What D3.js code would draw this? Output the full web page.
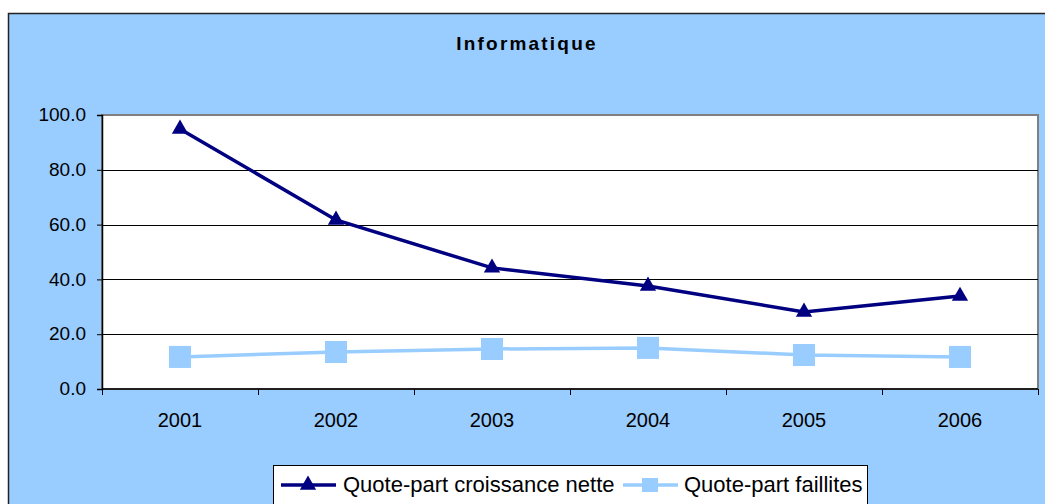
<!DOCTYPE html>
<html lang="en">
<head>
<meta charset="utf-8">
<title>Informatique</title>
<script src="https://cdn.jsdelivr.net/npm/d3@7"></script>
<style>
  body { margin: 0; background: #fff; }
  svg { display: block; font-family: "Liberation Sans", Arial, sans-serif; }
</style>
</head>
<body>
<script>
// data
var years = ["2001", "2002", "2003", "2004", "2005", "2006"];
var croissance = [94.9, 61.7, 44.2, 37.6, 28.1, 33.9];
var faillites = [11.7, 13.5, 14.6, 15.0, 12.4, 11.7];
var yTicks = [0, 20, 40, 60, 80, 100];

var w = 1045, h = 504;
var plot = { left: 102, top: 115, right: 1038, bottom: 389 };

var svg = d3.select("body").append("svg")
  .attr("width", w)
  .attr("height", h);

// chart area background with border
svg.append("rect")
  .attr("x", 8.5).attr("y", 13.5)
  .attr("width", w + 20).attr("height", h + 20)
  .attr("fill", "#99CCFF")
  .attr("stroke", "#222")
  .attr("stroke-width", 1.5);

svg.append("text")
  .attr("x", 527).attr("y", 50)
  .attr("text-anchor", "middle")
  .attr("font-size", 19)
  .attr("font-weight", "bold")
  .attr("letter-spacing", "2.2px")
  .text("Informatique");

var x = d3.scaleBand().domain(years).range([plot.left, plot.right]);
var y = d3.scaleLinear().domain([0, 100]).range([plot.bottom, plot.top]);

// plot area
svg.append("rect")
  .attr("x", plot.left).attr("y", plot.top)
  .attr("width", plot.right - plot.left).attr("height", plot.bottom - plot.top)
  .attr("fill", "#fff")
  .attr("stroke", "#808080")
  .attr("stroke-width", 2);

// gridlines
svg.append("g").selectAll("line")
  .data(yTicks.filter(function(d) { return d > 0 && d < 100; }))
  .enter().append("line")
  .attr("x1", plot.left).attr("x2", plot.right)
  .attr("y1", function(d) { return Math.round(y(d)) + 0.5; })
  .attr("y2", function(d) { return Math.round(y(d)) + 0.5; })
  .attr("stroke", "#000")
  .attr("stroke-width", 1);

// y axis
var yAxis = d3.axisLeft(y)
  .tickValues(yTicks)
  .tickFormat(d3.format(".1f"))
  .tickSize(5)
  .tickPadding(11);

var gy = svg.append("g")
  .attr("transform", "translate(" + plot.left + ",0)")
  .call(yAxis);
gy.selectAll("text")
  .attr("font-size", 19)
  .attr("dy", "0.3em")
  .attr("fill", "#000")
  .attr("font-family", "Liberation Sans, Arial, sans-serif");
gy.selectAll("line").attr("stroke", "#000");
gy.select(".domain").attr("stroke", "#000").attr("stroke-width", 1.5);

// x axis with ticks at band edges
var gx = svg.append("g")
  .attr("transform", "translate(0," + plot.bottom + ")");
gx.append("line")
  .attr("x1", plot.left).attr("x2", plot.right)
  .attr("stroke", "#000").attr("stroke-width", 1.5);
var edges = years.map(function(d) { return x(d); }).concat([plot.right]);
gx.selectAll("line.tick")
  .data(edges)
  .enter().append("line")
  .attr("class", "tick")
  .attr("x1", function(d) { return Math.round(d) + 0.5; })
  .attr("x2", function(d) { return Math.round(d) + 0.5; })
  .attr("y1", 0).attr("y2", 6)
  .attr("stroke", "#000");
gx.selectAll("text")
  .data(years)
  .enter().append("text")
  .attr("x", function(d) { return x(d) + x.bandwidth() / 2; })
  .attr("y", 38)
  .attr("text-anchor", "middle")
  .attr("font-size", 20)
  .text(function(d) { return d; });

var line = d3.line()
  .x(function(d, i) { return x(years[i]) + x.bandwidth() / 2; })
  .y(function(d) { return y(d); });

// faillites series
svg.append("path")
  .datum(faillites)
  .attr("d", line)
  .attr("fill", "none")
  .attr("stroke", "#99CCFF")
  .attr("stroke-width", 3.5);
svg.append("g").selectAll("rect")
  .data(faillites)
  .enter().append("rect")
  .attr("x", function(d, i) { return x(years[i]) + x.bandwidth() / 2 - 11; })
  .attr("y", function(d) { return y(d) - 11; })
  .attr("width", 22).attr("height", 22)
  .attr("fill", "#99CCFF");

// croissance series
svg.append("path")
  .datum(croissance)
  .attr("d", line)
  .attr("fill", "none")
  .attr("stroke", "#000080")
  .attr("stroke-width", 3.5);
var tri = d3.symbol().type(d3.symbolTriangle).size(115);
svg.append("g").selectAll("path")
  .data(croissance)
  .enter().append("path")
  .attr("d", tri)
  .attr("transform", function(d, i) {
    return "translate(" + (x(years[i]) + x.bandwidth() / 2) + "," + y(d) + ")";
  })
  .attr("fill", "#000080");

// legend
var lg = svg.append("g");
lg.append("rect")
  .attr("x", 273.5).attr("y", 465.5)
  .attr("width", 594).attr("height", 60)
  .attr("fill", "#fff")
  .attr("stroke", "#000");

var legendItems = [
  { label: "Quote-part croissance nette", color: "#000080", marker: "tri", x: 281, tx: 343 },
  { label: "Quote-part faillites", color: "#99CCFF", marker: "sq", x: 623, tx: 684 }
];
var ly = 485;
legendItems.forEach(function(it) {
  lg.append("line")
    .attr("x1", it.x).attr("x2", it.x + 55)
    .attr("y1", ly).attr("y2", ly)
    .attr("stroke", it.color).attr("stroke-width", 3.5);
  if (it.marker === "tri") {
    lg.append("path")
      .attr("d", tri)
      .attr("transform", "translate(" + (it.x + 27) + "," + ly + ")")
      .attr("fill", it.color);
  } else {
    lg.append("rect")
      .attr("x", it.x + 27 - 8).attr("y", ly - 7)
      .attr("width", 16).attr("height", 14)
      .attr("fill", it.color);
  }
  lg.append("text")
    .attr("x", it.tx).attr("y", ly + 7)
    .attr("font-size", 22)
    .text(it.label);
});
</script>
</body>
</html>
